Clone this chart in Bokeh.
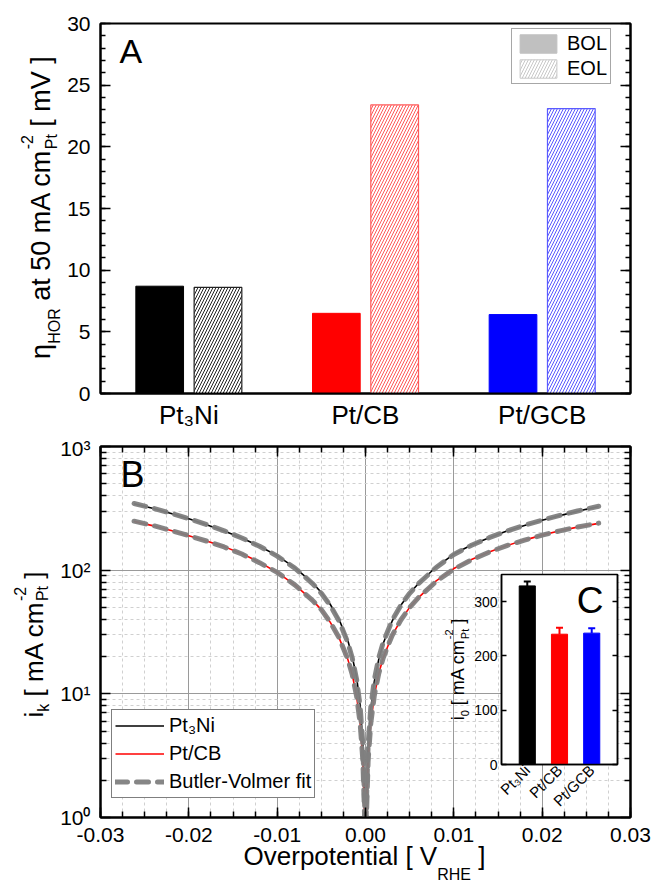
import math
from bokeh.plotting import figure
from bokeh.models import (ColumnDataSource, FactorRange, Range1d, Label, Legend, LegendItem,
                          LinearAxis, LogAxis, FixedTicker, SingleIntervalTicker, Plot,
                          CustomJSTickFormatter, NumeralTickFormatter, Whisker, TeeHead)
from bokeh.transform import dodge
from bokeh.layouts import column
from bokeh.embed import file_html
from bokeh.resources import INLINE

FONT = "Liberation Sans"

# ---------------- data ----------------
catalysts = ["Pt₃Ni", "Pt/CB", "Pt/GCB"]
bar_colors = ["#000000", "#ff0000", "#0000ff"]
eol_line_colors = ["#222222", "#ff5a5a", "#5a5aff"]
eta_hor_bol = [8.7, 6.5, 6.4]      # mV, BOL
eta_hor_eol = [8.6, 23.4, 23.1]    # mV, EOL

i0_values = [329, 240, 242]        # mA cm-2 Pt
i0_errors = [8, 12, 9]

overpotential = [-0.0262, -0.024, -0.022, -0.020, -0.018, -0.016, -0.014, -0.012, -0.010,
                 -0.008, -0.006, -0.005, -0.004, -0.003, -0.002, -0.0015, -0.001, -0.0006,
                 -0.0003, -0.0001, 0.0, 0.0001, 0.0003, 0.0006, 0.001, 0.0015, 0.002, 0.003,
                 0.004, 0.005, 0.006, 0.008, 0.010, 0.012, 0.014, 0.016, 0.018, 0.020, 0.022,
                 0.024, 0.0264]
ik_pt3ni = [344, 315, 287, 260, 233, 207, 182, 156, 131, 105, 79, 66, 53, 40, 27, 20, 13.5, 8,
            4, 1.4, 0.3, 1.3, 3.8, 7.6, 12.6, 19, 25.5, 38.5, 52, 65, 78, 106, 135, 160, 183,
            207, 230, 253, 276, 300, 327]
ik_ptcb = [248, 228, 209, 190, 172, 155, 136, 116, 96, 76, 57, 48, 38, 28.5, 19, 14.3, 9.5, 5.7,
           2.9, 1.0, 0.2, 0.95, 2.9, 5.8, 9.7, 14.6, 19.5, 29.5, 39.5, 50, 60, 82, 103, 122, 140,
           158, 175, 192, 208, 223, 239]
# Butler-Volmer fits (coincide with the data)
bv_fit_pt3ni = [346, 316, 288, 261, 234, 208, 182, 156, 130, 104, 78, 65, 52, 39, 26, 19.5, 13,
                7.8, 3.9, 1.3, 0.3, 1.3, 3.9, 7.8, 13, 19.5, 26, 39, 52, 65, 78, 105, 134, 159,
                183, 207, 231, 254, 277, 301, 329]
bv_fit_ptcb = [249, 229, 209, 190, 172, 154, 135, 115, 96, 76, 57, 48, 38, 28.5, 19, 14.3, 9.5,
               5.7, 2.9, 1.0, 0.2, 1.0, 2.9, 5.8, 9.7, 14.6, 19.5, 29.5, 39.5, 50, 60, 81, 102,
               121, 140, 158, 175, 192, 208, 223, 240]

# ---------------- helpers ----------------
ARIAL_W = {' ': 278, '-': 333, '.': 278, '/': 278, '[': 278, ']': 278, 'A': 667, 'B': 667,
           'C': 722, 'E': 667, 'H': 722, 'N': 722, 'O': 778, 'P': 667, 'R': 722, 'V': 667,
           'a': 556, 'c': 500, 'e': 556, 'i': 222, 'k': 500, 'l': 222, 'm': 833, 'n': 556,
           'o': 556, 'p': 556, 'r': 333, 't': 278, 'v': 500, 'η': 556}
MID = 0.3465   # distance (in em) from the alphabetic baseline to the middle of the em box


def tw(s, size):
    return sum(ARIAL_W.get(ch, 556) for ch in s) * size / 1000.0


def style_axis(ax, size, standoff, tin=8, tout=0, mtin=4, mtout=0, lw=2):
    ax.axis_line_width = lw
    ax.axis_line_color = "black"
    ax.major_tick_in = tin
    ax.major_tick_out = tout
    ax.minor_tick_in = mtin
    ax.minor_tick_out = mtout
    ax.major_tick_line_color = "black"
    ax.minor_tick_line_color = "black"
    ax.major_tick_line_width = 1.5
    ax.minor_tick_line_width = 1.5
    ax.major_label_text_font = FONT
    ax.major_label_text_font_size = size
    ax.major_label_text_color = "black"
    ax.major_label_standoff = standoff


blank = CustomJSTickFormatter(code="return ''")

W_PAGE, H_PAGE = 654, 893
HA = 436
HB = H_PAGE - HA

# ---------------- panel A ----------------
pA = figure(x_range=FactorRange(factors=catalysts), y_range=Range1d(0, 30),
            width=W_PAGE, height=HA, min_border_left=100, min_border_right=24,
            min_border_top=23, min_border_bottom=HA - 393,
            output_backend="svg", toolbar_location=None)
pA.outline_line_color = "black"
pA.outline_line_width = 2
pA.xgrid.visible = False
pA.ygrid.visible = False

srcA = ColumnDataSource(dict(cat=catalysts, bol=eta_hor_bol, eol=eta_hor_eol,
                             color=bar_colors, eolline=eol_line_colors))
pA.vbar(x=dodge("cat", -0.165, range=pA.x_range), top="bol", width=0.27, source=srcA,
        fill_color="color", line_color="color")
pA.vbar(x=dodge("cat", 0.165, range=pA.x_range), top="eol", width=0.27, source=srcA,
        fill_color="white", line_color="eolline", line_width=1.2,
        hatch_pattern="/", hatch_color="eolline", hatch_scale=6, hatch_weight=1)

# legend-only swatches (kept below the visible y range)
legA_bol = pA.vbar(x=[catalysts[0]], top=[-2], bottom=[-3], width=0.27,
                   fill_color="#c0c0c0", line_color="#c0c0c0")
legA_eol = pA.vbar(x=[catalysts[0]], top=[-2], bottom=[-3], width=0.27,
                   fill_color="white", line_color="#c8c8c8",
                   hatch_pattern="/", hatch_color="#c8c8c8", hatch_scale=6, hatch_weight=1)
legA = Legend(items=[LegendItem(label="BOL", renderers=[legA_bol]),
                     LegendItem(label="EOL", renderers=[legA_eol])],
              location=(411, 309), label_text_font=FONT, label_text_font_size="20px",
              label_text_color="black", glyph_width=46, glyph_height=23, label_height=23,
              padding=3, spacing=2, label_standoff=6, margin=0,
              border_line_color="#505050", border_line_width=1)
pA.add_layout(legA)

yt = SingleIntervalTicker(interval=5, num_minor_ticks=5)
pA.yaxis.ticker = yt
style_axis(pA.yaxis[0], "21px", 10, tin=10, mtin=5)
rA = LinearAxis(ticker=yt, formatter=blank)
style_axis(rA, "1px", 0, tin=10, mtin=5)
pA.add_layout(rA, "right")
style_axis(pA.xaxis[0], "26px", 6, tin=0, mtin=0)

# ---------------- panel B ----------------
pB = figure(x_range=Range1d(-0.03, 0.03), y_range=Range1d(1, 1000), y_axis_type="log",
            width=W_PAGE, height=HB, min_border_left=100, min_border_right=24,
            min_border_top=446 - HA, min_border_bottom=HB - (817 - HA),
            output_backend="svg", toolbar_location=None)
pB.outline_line_color = "black"
pB.outline_line_width = 2

x_major = [-0.03, -0.02, -0.01, 0.0, 0.01, 0.02, 0.03]
x_minor = [round(-0.03 + 0.0025 * k, 4) for k in range(25)]
xt = FixedTicker(ticks=x_major, minor_ticks=x_minor)
y_major = [1, 10, 100, 1000]
y_minor = [m * 10 ** e for e in range(3) for m in range(2, 10)]
ytB = FixedTicker(ticks=y_major, minor_ticks=y_minor)

pB.xaxis.ticker = xt
pB.xaxis.formatter = NumeralTickFormatter(format="0.00")
style_axis(pB.xaxis[0], "21px", 10, tin=10, mtin=6)
pB.yaxis.ticker = ytB
pB.yaxis.formatter = CustomJSTickFormatter(code="""
const sup = {"0": "\u2070", "1": "\u00b9", "2": "\u00b2", "3": "\u00b3"};
return "10" + sup[String(Math.round(Math.log10(tick)))];
""")
style_axis(pB.yaxis[0], "21px", 10, tin=10, mtin=6)
tB = LinearAxis(ticker=xt, formatter=blank)
style_axis(tB, "1px", 0, tin=10, mtin=6)
pB.add_layout(tB, "above")
rB = LogAxis(ticker=ytB, formatter=blank)
style_axis(rB, "1px", 0, tin=10, mtin=6)
pB.add_layout(rB, "right")

for g, t in ((pB.xgrid, xt), (pB.ygrid, ytB)):
    g.ticker = t
    g.grid_line_color = "#9a9a9a"
    g.grid_line_width = 1
    g.minor_grid_line_color = "#d0d0d0"
    g.minor_grid_line_dash = "3 3"
    g.minor_grid_line_width = 1

srcB = ColumnDataSource(dict(eta=overpotential, a=ik_pt3ni, b=ik_ptcb,
                             fa=bv_fit_pt3ni, fb=bv_fit_ptcb))
l1 = pB.line("eta", "a", source=srcB, line_color="black", line_width=1.6)
l2 = pB.line("eta", "b", source=srcB, line_color="#ff0000", line_width=1.6)
f1 = pB.line("eta", "fa", source=srcB, line_color="#808080", line_width=5,
             line_dash="12 9", line_cap="round", line_alpha=0.95)
f2 = pB.line("eta", "fb", source=srcB, line_color="#808080", line_width=5,
             line_dash="12 9", line_cap="round", line_alpha=0.95)

legB = Legend(items=[LegendItem(label="Pt₃Ni", renderers=[l1]),
                     LegendItem(label="Pt/CB", renderers=[l2]),
                     LegendItem(label="Butler-Volmer fit", renderers=[f1])],
              location=(11, 19), label_text_font=FONT, label_text_font_size="20px",
              label_text_color="black", glyph_width=49, glyph_height=25, label_height=25,
              padding=3, spacing=3, label_standoff=5, margin=0,
              border_line_color="black", border_line_width=1, background_fill_alpha=1)
pB.add_layout(legB)

# ---------------- inset C ----------------
C_LEFT, C_TOP, C_W, C_H = 438, 564, 184, 260
pC = figure(x_range=FactorRange(factors=catalysts, range_padding=0.2), y_range=Range1d(0, 350),
            width=C_W, height=C_H, min_border_left=63, min_border_right=5,
            min_border_top=10, min_border_bottom=60,
            output_backend="svg", toolbar_location=None)
pC.frame_align = False
pC.background_fill_color = "white"
pC.border_fill_alpha = 0
pC.outline_line_color = "black"
pC.outline_line_width = 1.5
pC.xgrid.visible = False
pC.ygrid.visible = False

srcC = ColumnDataSource(dict(cat=catalysts, i0=i0_values, color=bar_colors))
pC.vbar(x="cat", top="i0", width=0.5, source=srcC, fill_color="color", line_color="color")
for k in range(len(catalysts)):
    ws = ColumnDataSource(dict(cat=[catalysts[k]], lo=[i0_values[k]],
                               hi=[i0_values[k] + i0_errors[k]]))
    pC.add_layout(Whisker(source=ws, base="cat", lower="lo", upper="hi",
                          line_color=bar_colors[k], line_width=2, lower_head=None,
                          upper_head=TeeHead(size=7, line_color=bar_colors[k], line_width=2)))

ytC = FixedTicker(ticks=[0, 100, 200, 300], minor_ticks=[])
pC.yaxis.ticker = ytC
style_axis(pC.yaxis[0], "14px", 4, tin=5, mtin=0, lw=1.5)
rC = LinearAxis(ticker=ytC, formatter=blank)
style_axis(rC, "1px", 0, tin=5, mtin=0, lw=1.5)
pC.add_layout(rC, "right")
style_axis(pC.xaxis[0], "15px", 3, tin=0, mtin=0, lw=1.5)
pC.xaxis.major_label_orientation = math.pi / 4
pC.margin = (C_TOP - H_PAGE, 0, H_PAGE - C_TOP - C_H, C_LEFT)

# ---------------- text overlay (page coordinates) ----------------
pT = Plot(width=W_PAGE, height=H_PAGE, x_range=Range1d(0, W_PAGE), y_range=Range1d(H_PAGE, 0),
          min_border=0, title=None, toolbar_location=None, output_backend="svg",
          outline_line_color=None, background_fill_alpha=0, border_fill_alpha=0)
pT.frame_align = False
pT.margin = (-H_PAGE, 0, 0, 0)


def put(text, x, y, size, angle=0.0, align="left"):
    """(x, y) is the point on the alphabetic baseline, in page pixels."""
    if angle:
        x, y = x - MID * size, y
    else:
        x, y = x, y - MID * size
    pT.add_layout(Label(x=x, y=y, text=text, angle=angle, text_font=FONT,
                        text_font_size=f"{size}px", text_color="black",
                        text_align=align, text_baseline="middle"))


def rich_text(parts, cx, cy, vertical=False):
    """parts: (text, size, shift_down, advances); cx, cy: baseline centre in page px."""
    total = sum(tw(t, s) for t, s, sh, adv in parts if adv)
    pos = -total / 2.0
    for t, s, sh, adv in parts:
        lead = tw(t[:len(t) - len(t.lstrip())], s)
        if vertical:
            put(t.strip(), cx + sh, cy - (pos + lead), s, angle=math.pi / 2)
        else:
            put(t.strip(), cx + pos + lead, cy + sh, s)
        if adv:
            pos += tw(t, s)


put("A", 119, 62, 34)
put("B", 120, 486, 36)
put("C", 603, 613, 37, align="right")
rich_text([("η", 27, 0, True), ("HOR", 16, 10, True), (" at 50 mA cm", 27, 0, True),
           ("-2", 16, -18, False), ("Pt", 16, 7, True), (" [ mV ]", 27, 0, True)],
          50, 207, vertical=True)
rich_text([("i", 26, 0, True), ("k", 16, 6, True), (" [ mA cm", 26, 0, True),
           ("-2", 16, -18, False), ("Pt", 16, 5, True), (" ]", 26, 0, True)],
          43, 644, vertical=True)
rich_text([("Overpotential [ V", 26, 0, True), ("RHE", 16, 15, True), (" ]", 26, 0, True)],
          364, 865)
rich_text([("i", 18, 0, True), ("0", 11, 4, True), (" [ mA cm", 18, 0, True),
           ("-2", 11, -12, False), ("Pt", 11, 4, True), (" ]", 18, 0, True)],
          464, 669, vertical=True)

layout = column(pA, pB, pC, pT)
open("out.html", "w").write(file_html(layout, INLINE))
